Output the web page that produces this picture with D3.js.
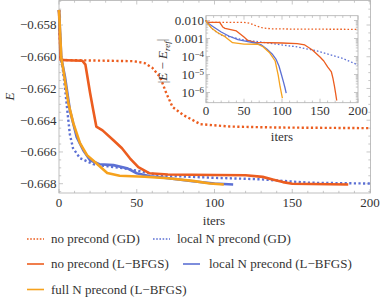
<!DOCTYPE html>
<html>
<head>
<meta charset="utf-8">
<script src="https://cdn.jsdelivr.net/npm/d3@7"></script>
<style>
  body { margin: 0; background: #fff; }
  text { font-family: 'Liberation Serif', 'DejaVu Serif', serif; font-size: 13px; fill: #333; }
</style>
</head>
<body>
<script>
// main plot data (E against iters)
let gdIters = [0, 1, 10, 30, 48, 55, 60, 65, 69, 73, 80, 91, 110, 140, 200]
let gdE = [-0.65705, -0.6602, -0.66022, -0.66025, -0.66028, -0.66040, -0.66070, -0.66128, -0.66229, -0.66317, -0.66368, -0.66425, -0.66440, -0.66446, -0.66450]

let localGdIters = [0, 1.2, 2, 4, 6, 7, 9, 13.5, 22, 31, 41, 52, 65, 100, 129, 161, 200]
let localGdE = [-0.65705, -0.6602, -0.6604, -0.6621, -0.6640, -0.6649, -0.66576, -0.66639, -0.66677, -0.66690, -0.66702, -0.66721, -0.66748, -0.66763, -0.66772, -0.66794, -0.66799]

let lbIters = [0, 1, 5, 15, 17, 20, 22, 24, 28, 35, 40.5, 45.6, 51, 58, 70, 100, 120, 131, 138, 144, 150, 186]
let lbE = [-0.65705, -0.6602, -0.66022, -0.66025, -0.66050, -0.66229, -0.66336, -0.66440, -0.66464, -0.66526, -0.66577, -0.66640, -0.66696, -0.66734, -0.66742, -0.66745, -0.66747, -0.66757, -0.66775, -0.66790, -0.66800, -0.66805]

let localLbIters = [0, 1.5, 3.9, 7, 11.4, 15.6, 20, 26, 35, 43.7, 50, 58.5, 65, 86, 100, 112]
let localLbE = [-0.65705, -0.6601, -0.6613, -0.66336, -0.66507, -0.66589, -0.66652, -0.66677, -0.66683, -0.66702, -0.66734, -0.66753, -0.66759, -0.66785, -0.66799, -0.66805]

let fullLbIters = [0, 1.5, 2.8, 6, 9.2, 13.5, 18, 24, 31, 39, 55, 70, 86, 97, 106]
let fullLbE = [-0.65705, -0.6601, -0.66084, -0.66292, -0.66418, -0.66544, -0.6662, -0.66671, -0.66732, -0.66750, -0.66756, -0.66766, -0.66782, -0.66799, -0.66805]

// inset data (|E - Eref| against iters)
let gdInIters = [0, 1, 50, 58, 66.6, 75, 86, 120, 200]
let gdInErr = [0.0105, 0.00794, 0.00794, 0.00692, 0.0049, 0.0038, 0.00347, 0.00331, 0.00324]

let localGdInIters = [0, 1, 5, 10, 20, 35, 50, 70, 95, 120, 146, 165, 180, 200]
let localGdInErr = [0.0105, 0.00794, 0.0049, 0.00295, 0.00155, 0.00115, 0.00083, 0.00065, 0.00047, 0.00034, 0.000204, 0.00012, 0.0000776, 0.0000339]

let lbInIters = [0, 1, 18, 22, 25, 40, 50, 55, 65, 100, 120, 130, 140, 150, 155, 160, 165, 167, 169, 170.5, 172]
let lbInErr = [0.0105, 0.00794, 0.00794, 0.00437, 0.00363, 0.00263, 0.0012, 0.000776, 0.000603, 0.000562, 0.000525, 0.000437, 0.000229, 0.0000933, 0.0000562, 0.0000263, 0.0000138, 0.0000063, 0.00000229, 0.00000093, 0.00000036]

let localLbInIters = [0, 1, 10, 20, 30, 42, 55, 65, 73, 80, 87, 92, 96, 99, 102, 104, 105.5]
let localLbInErr = [0.0105, 0.00794, 0.00437, 0.00229, 0.00138, 0.00087, 0.000676, 0.000562, 0.000437, 0.000263, 0.000138, 0.0000724, 0.0000295, 0.0000107, 0.0000038, 0.00000178, 0.00000093]

let fullLbInIters = [0, 1, 7.5, 15, 25, 35, 50, 68, 75, 84, 91, 95, 97.5, 100.5]
let fullLbInErr = [0.0105, 0.00794, 0.00372, 0.00214, 0.00126, 0.000589, 0.00049, 0.000479, 0.000347, 0.000155, 0.0000562, 0.0000093, 0.00000209, 0.00000048]

// ticks
let xTicks = [0, 50, 100, 150, 200]
let yTicks = [-0.658, -0.660, -0.662, -0.664, -0.666, -0.668]
let insetYTicks = [1e-2, 1e-3, 1e-4, 1e-5, 1e-6]
let insetYLabels = ['0.010', '0.001', '10|−4', '10|−5', '10|−6']

let legendNames = ['no precond (GD)', 'local N precond (GD)', 'no precond (L\u2212BFGS)', 'local N precond (L\u2212BFGS)', 'full N precond (L\u2212BFGS)']

let red = '#ec5d1f'
let blue = '#5c70d4'
let orange = '#f6a21d'
let frameColor = '#b0b0b0'

let svg = d3.select('body').append('svg').attr('width', 381).attr('height', 300)

// scales
let x = d3.scaleLinear().domain([0, 200]).range([59, 370])
let y = d3.scaleLinear().domain([-0.658, -0.668]).range([25, 183.7])
let xi = d3.scaleLinear().domain([0, 200]).range([206, 358])
let yi = d3.scaleLog().domain([1e-2, 1e-6]).range([20.5, 92.5])

let mainBox = {l: 59, r: 370.5, t: 0.5, b: 193}
let insetBox = {l: 206, r: 358, t: 15.7, b: 102.7}

// frame with inward ticks on all sides
let drawFrame = (box, xs, ys, xMajor, xMinor, yMajor, yMinor) => {
    let g = svg.append('g').attr('stroke', frameColor).attr('fill', 'none')
    g.append('rect').attr('x', box.l).attr('y', box.t)
        .attr('width', box.r - box.l).attr('height', box.b - box.t).attr('stroke-width', 0.8)
    let tick = (pos, len, vertical) => {
        if (vertical) {
            g.append('line').attr('x1', pos).attr('x2', pos).attr('y1', box.b).attr('y2', box.b - len).attr('stroke-width', 0.7)
            g.append('line').attr('x1', pos).attr('x2', pos).attr('y1', box.t).attr('y2', box.t + len).attr('stroke-width', 0.7)
        } else {
            g.append('line').attr('y1', pos).attr('y2', pos).attr('x1', box.l).attr('x2', box.l + len).attr('stroke-width', 0.7)
            g.append('line').attr('y1', pos).attr('y2', pos).attr('x1', box.r).attr('x2', box.r - len).attr('stroke-width', 0.7)
        }
    }
    xMajor.forEach(v => tick(xs(v), 4, true))
    xMinor.forEach(v => tick(xs(v), 2.2, true))
    yMajor.forEach(v => tick(ys(v), 4, false))
    yMinor.forEach(v => { let p = ys(v); if (p > box.t && p < box.b) tick(p, 2.2, false) })
}

let xMinor = d3.range(0, 201, 10).filter(v => v % 50 !== 0)
let yMinor = d3.range(-0.6565, -0.6686, -0.0005).filter(v => Math.abs(Math.round(v * 500) - v * 500) > 0.01)
drawFrame(mainBox, x, y, xTicks, xMinor, yTicks, yMinor)

let logMinor = []
for (let e = -7; e <= -2; e++) {
    for (let m = 2; m <= 9; m++) logMinor.push(m * Math.pow(10, e))
}
logMinor.push(0.02)
let yiClamp = v => yi(v)
drawFrame(insetBox, xi, yiClamp, xTicks, xMinor, insetYTicks, logMinor)

// main tick labels
svg.append('g').selectAll('text').data(xTicks).enter().append('text')
    .attr('x', d => x(d)).attr('y', 207).attr('text-anchor', 'middle').text(d => d)
svg.append('g').selectAll('text').data(yTicks).enter().append('text')
    .attr('x', 56.5).attr('y', d => y(d)).attr('dy', '0.33em').attr('text-anchor', 'end')
    .text(d => d3.format('.3f')(d).replace('-', '\u2212'))

svg.append('text').attr('x', 214).attr('y', 225).attr('text-anchor', 'middle').text('iters')
svg.append('text').attr('transform', 'translate(14,96.5) rotate(-90)').attr('text-anchor', 'middle')
    .style('font-style', 'italic').text('E')

// main curves
let mainLine = (its, vals) => d3.line().x((d, i) => x(its[i])).y(d => y(d))(vals)
let insetLine = (its, vals) => d3.line().x((d, i) => xi(its[i])).y(d => yi(d))(vals)

let series = [
    {its: gdIters, vals: gdE, inIts: gdInIters, inVals: gdInErr, color: red, dotted: true},
    {its: localGdIters, vals: localGdE, inIts: localGdInIters, inVals: localGdInErr, color: blue, dotted: true},
    {its: lbIters, vals: lbE, inIts: lbInIters, inVals: lbInErr, color: red, dotted: false},
    {its: localLbIters, vals: localLbE, inIts: localLbInIters, inVals: localLbInErr, color: blue, dotted: false},
    {its: fullLbIters, vals: fullLbE, inIts: fullLbInIters, inVals: fullLbInErr, color: orange, dotted: false}
]

series.forEach(s => {
    svg.append('path').attr('d', mainLine(s.its, s.vals))
        .attr('fill', 'none').attr('stroke', s.color)
        .attr('stroke-width', s.dotted ? 2.4 : 2.6)
        .attr('stroke-dasharray', s.dotted ? '2.2,2.4' : null)
        .attr('stroke-linejoin', 'round')
})

// inset tick labels
svg.append('g').selectAll('text').data(xTicks).enter().append('text')
    .attr('x', d => xi(d)).attr('y', 115).attr('text-anchor', 'middle').text(d => d)
insetYTicks.forEach((v, i) => {
    let lab = insetYLabels[i]
    let t = svg.append('text').attr('x', 204).attr('y', yi(v)).attr('dy', '0.35em').attr('text-anchor', 'end')
    if (lab.indexOf('|') >= 0) {
        let parts = lab.split('|')
        t.append('tspan').text(parts[0])
        t.append('tspan').attr('dy', '-0.4em').style('font-size', '9px').text(parts[1])
    } else {
        t.text(lab)
    }
})
svg.append('text').attr('x', 282).attr('y', 141).attr('text-anchor', 'middle').text('iters')
let yl = svg.append('text').attr('transform', 'translate(167,61) rotate(-90)').attr('text-anchor', 'middle')
yl.append('tspan').text('|')
yl.append('tspan').style('font-style', 'italic').text('E')
yl.append('tspan').text(' \u2212 ')
yl.append('tspan').style('font-style', 'italic').text('E')
yl.append('tspan').attr('dy', '0.3em').style('font-size', '9px').style('font-style', 'italic').text('ref')
yl.append('tspan').attr('dy', '-0.3em').text('|')

// inset curves
series.forEach(s => {
    svg.append('path').attr('d', insetLine(s.inIts, s.inVals))
        .attr('fill', 'none').attr('stroke', s.color)
        .attr('stroke-width', 1.3)
        .attr('stroke-dasharray', s.dotted ? '1.6,2' : null)
        .attr('stroke-linejoin', 'round')
})

// legend
let legendPos = [
    {lx: 27, tx: 51, y: 239},
    {lx: 153, tx: 177, y: 239},
    {lx: 27, tx: 51, y: 264},
    {lx: 183, tx: 209, y: 264},
    {lx: 27, tx: 51, y: 289.5}
]
legendNames.forEach((name, i) => {
    let p = legendPos[i]
    let s = series[i]
    svg.append('line').attr('x1', p.lx).attr('x2', p.lx + 17).attr('y1', p.y).attr('y2', p.y)
        .attr('stroke', s.color).attr('stroke-width', s.dotted ? 1.3 : 1.6)
        .attr('stroke-dasharray', s.dotted ? '1.6,1.6' : null)
    svg.append('text').attr('x', p.tx).attr('y', p.y).attr('dy', '0.33em').text(name)
})
</script>
</body>
</html>
